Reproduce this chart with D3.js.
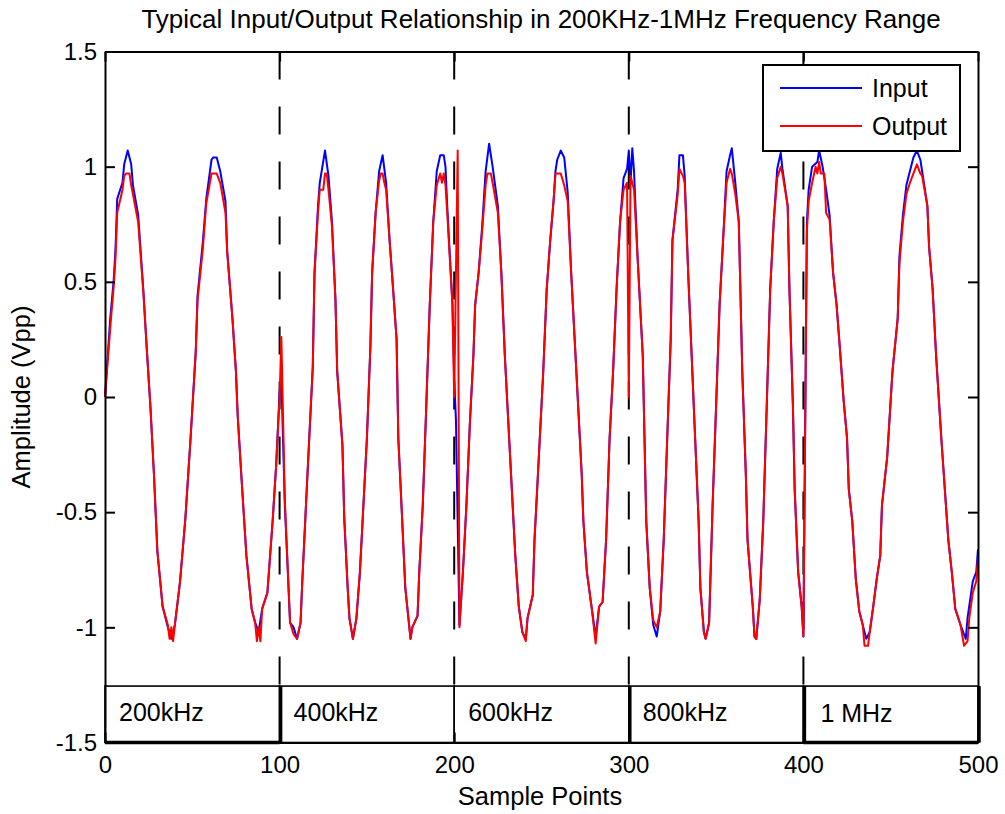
<!DOCTYPE html>
<html><head><meta charset="utf-8">
<script src="https://cdn.jsdelivr.net/npm/d3@7"></script>
<style>
body{margin:0;background:#fff}
svg text{font-family:"Liberation Sans",Arial,Helvetica,sans-serif;fill:#000}
</style>
</head><body>
<svg id="chart" width="1005" height="814"></svg>
<script>
// ---------------- data ----------------
const inSample=[0,3,5,6,7,10,11,13,15,16,19,22,24,26,28,30,33,36,38,40,43,46,49,52,53,56,58,61,62,64,66,69,70,73,75,76,78,81,84,86,88,90,93,96,98,100,101,103,106,108,110,112,113,116,119,120,122,123,126,128,130,132,133,136,137,139,140,142,144,146,148,150,152,153,155,157,159,161,163,165,167,168,170,172,175,176,179,180,182,184,186,188,190,192,194,195,196,199,200,201,203,205,207,209,211,212,214,216,218,220,222,225,227,229,231,233,235,237,239,241,242,245,246,248,251,253,255,257,258,259,261,263,265,267,269,271,273,274,276,279,281,283,285,287,289,291,293,295,297,299,300,301,302,303,305,308,309,310,312,314,316,318,320,322,324,325,328,329,331,332,334,336,338,340,341,343,344,346,348,350,352,354,356,358,359,361,363,365,367,368,371,372,373,375,377,379,381,383,385,387,388,391,392,394,395,397,399,400,402,403,405,408,409,411,413,415,417,419,421,423,425,426,428,430,432,434,436,438,440,442,444,445,448,451,454,455,457,459,461,463,465,467,468,471,472,474,476,479,481,483,485,487,490,493,494,497,499,500];
const inValue=[0.00,0.34,0.51,0.64,0.86,0.93,1.01,1.07,1.01,0.92,0.79,0.46,0.20,-0.04,-0.33,-0.67,-0.91,-1.00,-1.05,-0.99,-0.80,-0.53,-0.18,0.20,0.44,0.67,0.86,1.03,1.04,1.04,0.98,0.85,0.63,0.34,0.11,-0.08,-0.33,-0.69,-0.92,-0.98,-1.02,-0.92,-0.85,-0.54,-0.30,0.02,0.08,-0.47,-0.98,-1.00,-1.05,-0.98,-0.80,-0.33,0.13,0.54,0.83,0.93,1.07,0.96,0.76,0.42,0.11,-0.21,-0.52,-0.83,-0.96,-1.05,-0.96,-0.76,-0.47,-0.18,0.22,0.54,0.80,0.98,1.05,0.93,0.68,0.47,0.25,-0.18,-0.50,-0.83,-1.05,-1.00,-0.95,-0.76,-0.47,-0.04,0.40,0.76,0.98,1.05,1.05,1.00,0.83,0.40,0.08,-0.10,-0.99,-0.76,-0.47,-0.11,0.18,0.40,0.54,0.74,0.98,1.10,1.00,0.83,0.54,0.18,-0.11,-0.40,-0.69,-0.91,-1.02,-1.05,-0.96,-0.86,-0.62,-0.33,0.11,0.47,0.68,0.86,0.98,1.03,1.07,1.04,0.89,0.54,0.25,-0.04,-0.33,-0.54,-0.76,-0.93,-1.04,-0.91,-0.89,-0.62,-0.18,0.11,0.47,0.76,0.95,0.99,1.07,0.93,1.08,0.98,0.61,0.18,-0.18,-0.54,-0.83,-0.99,-1.04,-0.93,-0.62,-0.18,0.25,0.68,0.90,1.05,1.05,0.96,0.54,0.18,-0.18,-0.54,-0.83,-1.02,-1.05,-0.98,-0.47,-0.04,0.40,0.68,0.98,1.05,1.08,0.93,0.76,0.11,-0.33,-0.62,-0.91,-1.04,-1.05,-0.88,-0.54,-0.04,0.47,0.76,0.99,1.06,0.99,0.83,0.47,-0.04,-0.40,-0.76,-0.91,-1.04,0.76,0.90,1.00,1.02,1.07,1.00,0.90,0.79,0.54,0.40,0.20,-0.01,-0.18,-0.40,-0.54,-0.79,-0.93,-0.99,-1.05,-1.02,-0.91,-0.79,-0.69,-0.47,-0.26,0.11,0.34,0.61,0.79,0.92,0.98,1.04,1.07,1.03,0.98,0.83,0.65,0.47,0.18,-0.18,-0.40,-0.62,-0.76,-0.92,-0.99,-1.05,-0.96,-0.80,-0.76,-0.66];

const outSample=[0,3,5,6,7,10,11,12,14,15,16,19,22,24,26,28,30,33,36,37,38,39,40,43,46,49,52,53,56,58,61,64,66,69,70,73,75,76,78,81,84,86,87,88,89,90,93,96,98,100,101,103,106,108,110,112,113,116,119,120,122,123,125,126,127,128,130,132,133,136,137,139,140,142,144,146,148,150,152,153,155,157,158,159,160,161,163,165,167,168,170,172,175,176,179,180,182,184,186,188,190,192,193,194,195,196,199,200,202,203,205,207,209,211,212,214,216,218,219,221,222,225,227,229,231,233,235,237,239,241,242,245,246,248,251,253,255,257,258,261,263,265,267,269,271,273,274,276,279,281,283,285,287,289,291,293,295,297,299,300,301,302,303,305,308,309,310,312,314,316,318,320,322,324,325,328,329,331,332,334,336,338,340,341,343,344,346,348,350,352,354,356,358,359,361,363,365,367,368,371,372,373,375,377,379,381,383,385,387,388,391,392,394,395,397,399,400,402,403,405,407,408,409,410,412,413,415,417,419,421,423,425,426,428,430,432,434,435,437,438,440,442,444,445,448,451,454,455,457,459,461,463,465,467,468,471,472,474,476,479,481,483,485,487,490,492,494,495,497,499,500];
const outValue=[0.00,0.30,0.48,0.60,0.80,0.90,0.96,0.97,0.97,0.92,0.88,0.76,0.45,0.20,-0.04,-0.33,-0.67,-0.91,-0.99,-1.05,-1.00,-1.06,-0.99,-0.80,-0.53,-0.18,0.20,0.42,0.64,0.84,0.97,0.97,0.93,0.80,0.63,0.34,0.11,-0.08,-0.33,-0.69,-0.92,-0.98,-1.06,-1.00,-1.06,-0.92,-0.85,-0.54,-0.30,0.00,0.26,-0.45,-0.98,-1.03,-1.05,-0.98,-0.80,-0.33,0.13,0.54,0.80,0.90,0.90,0.97,0.97,0.90,0.74,0.42,0.11,-0.21,-0.52,-0.83,-0.96,-1.05,-0.96,-0.76,-0.47,-0.18,0.22,0.54,0.80,0.94,0.97,0.97,0.93,0.90,0.68,0.47,0.25,-0.18,-0.50,-0.83,-1.05,-1.00,-0.95,-0.76,-0.47,-0.04,0.40,0.76,0.92,0.97,0.93,0.97,0.92,0.80,0.40,0.00,1.07,-1.00,-0.76,-0.47,-0.11,0.18,0.40,0.54,0.72,0.92,0.97,0.97,0.93,0.80,0.54,0.18,-0.11,-0.40,-0.69,-0.91,-1.02,-1.06,-0.96,-0.86,-0.62,-0.33,0.11,0.47,0.68,0.86,0.97,0.97,0.92,0.85,0.54,0.25,-0.04,-0.33,-0.54,-0.76,-0.93,-1.07,-0.91,-0.89,-0.62,-0.18,0.11,0.47,0.76,0.90,0.93,0.00,0.96,0.93,0.90,0.61,0.18,-0.18,-0.54,-0.83,-0.97,-1.00,-0.93,-0.62,-0.18,0.25,0.68,0.88,0.99,0.96,0.93,0.54,0.18,-0.18,-0.54,-0.83,-1.02,-1.05,-0.98,-0.47,-0.04,0.40,0.68,0.93,0.99,0.97,0.88,0.76,0.11,-0.33,-0.62,-0.91,-1.04,-1.05,-0.88,-0.54,-0.04,0.47,0.76,0.95,1.00,0.97,0.83,0.47,-0.04,-0.40,-0.76,-0.91,-1.04,0.72,0.85,0.93,1.00,0.97,1.02,0.97,0.97,0.80,0.77,0.54,0.40,0.20,-0.01,-0.18,-0.40,-0.54,-0.79,-0.93,-0.99,-1.08,-1.08,-1.02,-0.91,-0.79,-0.69,-0.47,-0.26,0.11,0.34,0.58,0.76,0.88,0.93,0.97,1.01,0.97,0.96,0.83,0.65,0.47,0.18,-0.18,-0.40,-0.62,-0.76,-0.92,-0.99,-1.08,-1.06,-0.96,-0.85,-0.80,-0.70];

const xTicks=[0,100,200,300,400,500];
const xTickLabels=["0","100","200","300","400","500"];
const yTicks=[-1.5,-1,-0.5,0,0.5,1,1.5];
const yTickLabels=["-1.5","-1","-0.5","0","0.5","1","1.5"];
const bandStarts=[0,100,200,300,400];
const bandEnds=[100,200,300,400,500];
const bandLabels=["200kHz","400kHz","600kHz","800kHz","1 MHz"];
const bandTop=-1.255;
const dividers=[100,200,300,400];
const seriesNames=["Input","Output"];
const titleText="Typical Input/Output Relationship in 200KHz-1MHz Frequency Range";
const xLabel="Sample Points";
const yLabel="Amplitude (Vpp)";

// ---------------- layout ----------------
const L={left:105,right:978,top:51.5,bottom:742.5};
const colors={Input:"#0000ff",Output:"#ff0000"};
const svg=d3.select("#chart");
svg.append("rect").attr("width",1005).attr("height",814).attr("fill","#fff");

const x=d3.scaleLinear().domain([0,500]).range([L.left,L.right]);
const y=d3.scaleLinear().domain([-1.5,1.5]).range([L.bottom,L.top]);

const line=d3.line().x(d=>x(d[0])).y(d=>y(d[1]));
const inputData=d3.zip(inSample,inValue);
const outputData=d3.zip(outSample,outValue);

// dashed dividers
svg.append("g").selectAll("line").data(dividers).join("line")
  .attr("x1",d=>x(d)).attr("x2",d=>x(d))
  .attr("y1",y(1.5)).attr("y2",y(bandTop))
  .attr("stroke","#000").attr("stroke-width",2)
  .attr("stroke-dasharray","28,27");

// series
svg.append("path").datum(inputData).attr("d",line)
  .attr("fill","none").attr("stroke",colors.Input).attr("stroke-width",2).attr("stroke-linejoin","round");
svg.append("path").datum(outputData).attr("d",line)
  .attr("fill","none").attr("stroke",colors.Output).attr("stroke-width",2).attr("stroke-linejoin","round");

// frequency band boxes
const bands=svg.append("g");
bands.selectAll("rect").data(d3.range(bandStarts.length)).join("rect")
  .attr("x",i=>x(bandStarts[i])).attr("y",y(bandTop))
  .attr("width",i=>x(bandEnds[i])-x(bandStarts[i]))
  .attr("height",y(-1.5)-y(bandTop))
  .attr("fill","#fff").attr("stroke","#000").attr("stroke-width",1.6);
bands.selectAll("text").data(d3.range(bandLabels.length)).join("text")
  .attr("x",i=>x(bandStarts[i])+(i===4?17:14)).attr("y",i=>i===4?722:721)
  .attr("font-size",25).text(i=>bandLabels[i]);
// heavier edges (as in the reference)
const heavy=[[0,-1.5,100,-1.5],[100,bandTop,100,-1.5],[300,bandTop,300,-1.5],[400,bandTop,400,-1.5],[400,-1.5,500,-1.5],[500,bandTop,500,-1.5]];
bands.selectAll("line").data(heavy).join("line")
  .attr("x1",d=>x(d[0])+(d[0]===d[2]?1:0)).attr("x2",d=>x(d[2])+(d[0]===d[2]?1:0))
  .attr("y1",d=>y(d[1])).attr("y2",d=>y(d[3]))
  .attr("stroke","#000").attr("stroke-width",3.5);

// axes
const fmtY=d=>yTickLabels[yTicks.indexOf(d)];
const fmtX=d=>xTickLabels[xTicks.indexOf(d)];
const gL=svg.append("g").attr("transform",`translate(${L.left},0)`)
  .call(d3.axisLeft(y).tickValues(yTicks).tickFormat(fmtY).tickSizeInner(-10).tickSizeOuter(0).tickPadding(8));
const gR=svg.append("g").attr("transform",`translate(${L.right},0)`)
  .call(d3.axisRight(y).tickValues(yTicks).tickFormat("").tickSizeInner(-10).tickSizeOuter(0));
const gT=svg.append("g").attr("transform",`translate(0,${L.top})`)
  .call(d3.axisTop(x).tickValues(xTicks).tickFormat("").tickSizeInner(-10).tickSizeOuter(0));
const gB=svg.append("g").attr("transform",`translate(0,${L.bottom})`)
  .call(d3.axisBottom(x).tickValues(xTicks).tickFormat(fmtX).tickSizeInner(-10).tickSizeOuter(0).tickPadding(13));
[gL,gR,gT,gB].forEach(g=>{
  g.select(".domain").attr("stroke","#000").attr("stroke-width",2);
  g.selectAll(".tick line").attr("stroke","#000").attr("stroke-width",2);
  g.selectAll("text").attr("font-family","Liberation Sans, Arial, sans-serif").attr("font-size",24).attr("fill","#000");
});

// legend
const lg=svg.append("g");
lg.append("rect").attr("x",763).attr("y",65).attr("width",197).attr("height",86)
  .attr("fill","#fff").attr("stroke","#000").attr("stroke-width",2);
seriesNames.forEach((n,i)=>{
  const yy=88+i*38;
  lg.append("line").attr("x1",780).attr("x2",862).attr("y1",yy).attr("y2",yy)
    .attr("stroke",colors[n]).attr("stroke-width",2);
  lg.append("text").attr("x",872).attr("y",yy+9).attr("font-size",25).text(n);
});

// titles
svg.append("text").attr("x",541).attr("y",28).attr("text-anchor","middle").attr("font-size",26).text(titleText);
svg.append("text").attr("x",540).attr("y",805).attr("text-anchor","middle").attr("font-size",25.5).text(xLabel);
svg.append("text").attr("transform","translate(30,397) rotate(-90)").attr("text-anchor","middle").attr("font-size",25.5).text(yLabel);
</script>
</body></html>
